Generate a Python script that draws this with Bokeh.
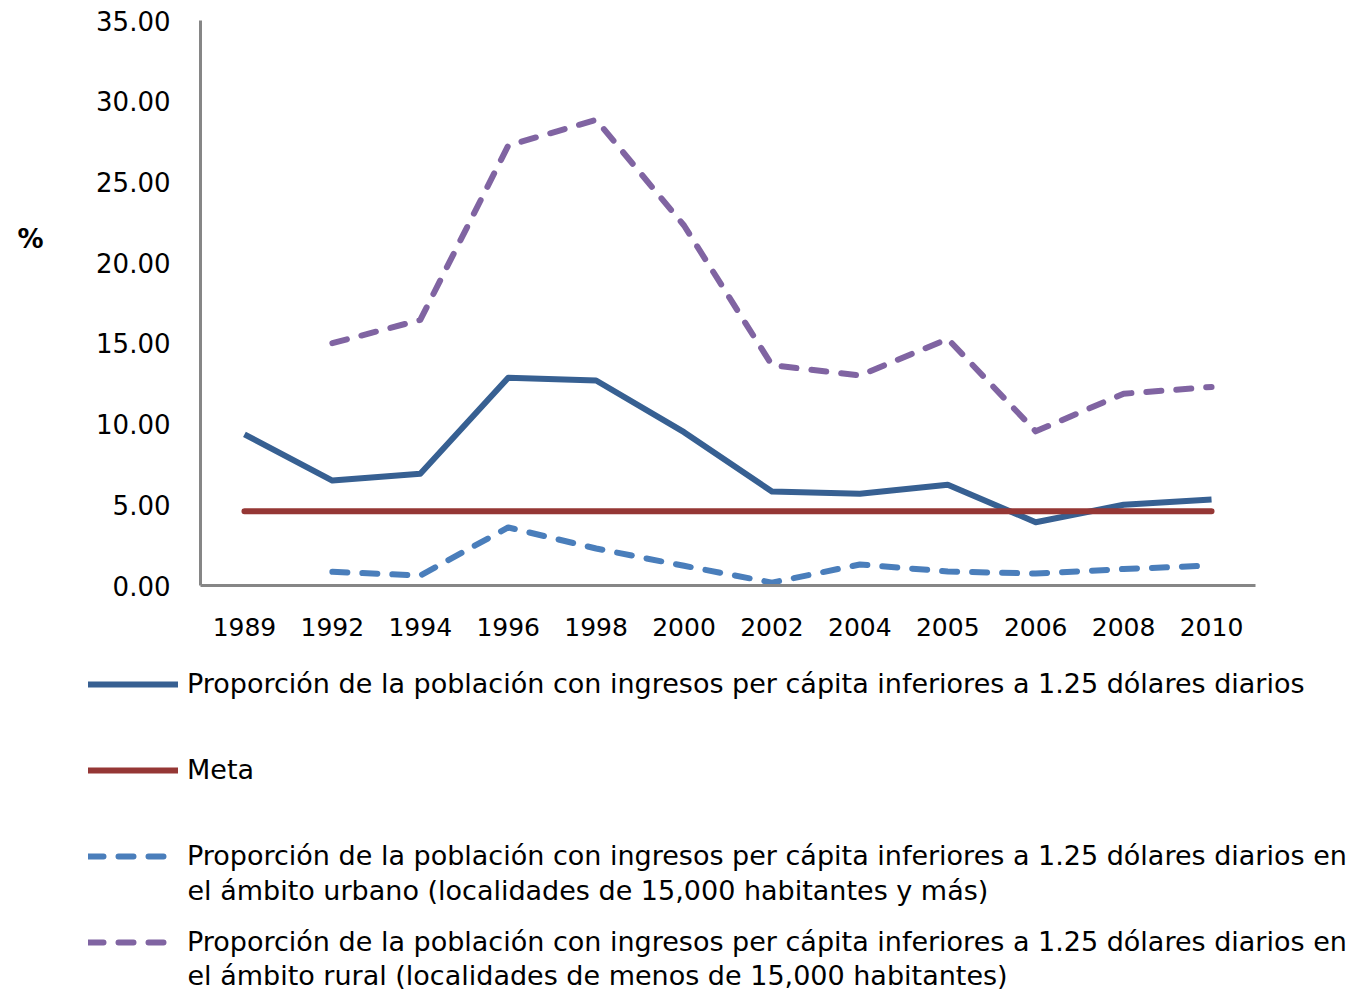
from bokeh.plotting import figure
from bokeh.layouts import column, row
from bokeh.models import (FixedTicker, NumeralTickFormatter, Legend, LegendItem,
                          Label, ColumnDataSource)
from bokeh.embed import file_html
from bokeh.resources import INLINE

# ---------------- data ----------------
years = ["1989", "1992", "1994", "1996", "1998", "2000", "2002", "2004",
         "2005", "2006", "2008", "2010"]
total = [9.36, 6.50, 6.92, 12.87, 12.70, 9.50, 5.82, 5.68, 6.24, 3.92, 5.00, 5.33]
meta = [4.60, 4.60, 4.60, 4.60, 4.60, 4.60, 4.60, 4.60, 4.60, 4.60, 4.60, 4.60]
sub_years = ["1992", "1994", "1996", "1998", "2000", "2002", "2004",
             "2005", "2006", "2008", "2010"]
urban = [0.85, 0.62, 3.60, 2.29, 1.22, 0.18, 1.30, 0.87, 0.74, 1.02, 1.24]
rural = [15.01, 16.45, 27.25, 28.85, 22.30, 13.65, 13.01, 15.27, 9.55, 11.88, 12.30]
y_ticks = [0, 5, 10, 15, 20, 25, 30, 35]

label_total = "Proporción de la población con ingresos per cápita inferiores a 1.25 dólares diarios"
label_meta = "Meta"
label_urban = ["Proporción de la población con ingresos per cápita inferiores a 1.25 dólares diarios en",
               "el ámbito urbano (localidades de 15,000 habitantes y más)"]
label_rural = ["Proporción de la población con ingresos per cápita inferiores a 1.25 dólares diarios en",
               "el ámbito rural (localidades de menos de 15,000 habitantes)"]
y_label = "%"

FONT = "DejaVu Sans"
C_TOTAL = "#376092"
C_META = "#953735"
C_URBAN = "#4A7EBB"
C_RURAL = "#8064A2"
LW = 6
DASH = "15 15"

CH = 644   # chart row height
LH = 348   # legend panel height

# ---------------- "%" column ----------------
pct = figure(width=60, height=CH, x_range=(0, 1), y_range=(0, 1), title=None,
             output_backend="svg", toolbar_location=None,
             min_border=0, outline_line_color=None)
pct.axis.visible = False
pct.grid.visible = False
pct.frame_width = 60
pct.frame_height = CH
pct.add_layout(Label(x=30, y=CH - 218, x_units="screen", y_units="screen", text=y_label,
                     text_font=FONT, text_font_size="26px", text_font_style="bold",
                     text_color="#000000", text_align="center", text_baseline="middle"))

# ---------------- chart ----------------
src_main = ColumnDataSource(dict(x=years, total=total, meta=meta))
src_sub = ColumnDataSource(dict(x=sub_years, urban=urban, rural=rural))

p = figure(width=1291, height=CH, x_range=years, y_range=(0, 35), title=None,
           output_backend="svg", toolbar_location=None,
           min_border_left=140, min_border_top=20, min_border_right=96,
           min_border_bottom=CH - 585)
p.frame_width = 1055
p.frame_height = 565

p.line("x", "total", source=src_main, line_color=C_TOTAL, line_width=LW,
       line_join="round")
p.line("x", "meta", source=src_main, line_color=C_META, line_width=LW,
       line_cap="round")
p.line("x", "urban", source=src_sub, line_color=C_URBAN, line_width=LW,
       line_dash=DASH, line_cap="round", line_join="round")
p.line("x", "rural", source=src_sub, line_color=C_RURAL, line_width=LW,
       line_dash=DASH, line_cap="round", line_join="round")

p.xgrid.visible = False
p.ygrid.visible = False
p.outline_line_color = None

for ax in (p.xaxis[0], p.yaxis[0]):
    ax.axis_line_color = "#868686"
    ax.axis_line_width = 3
    ax.major_tick_line_color = None
    ax.minor_tick_line_color = None
    ax.major_label_text_font = FONT
    ax.major_label_text_color = "#000000"

p.xaxis.major_label_text_font_size = "25px"
p.yaxis.major_label_text_font_size = "26px"
p.yaxis.ticker = FixedTicker(ticks=y_ticks)
p.yaxis.formatter = NumeralTickFormatter(format="0.00")
p.yaxis.major_label_standoff = 24
p.xaxis.major_label_standoff = 26

# ---------------- legend panel ----------------
lg = figure(width=1351, height=LH, x_range=(0, 1), y_range=(0, 1), title=None,
            output_backend="svg", toolbar_location=None,
            min_border=0, outline_line_color=None)
lg.axis.visible = False
lg.grid.visible = False
lg.frame_width = 1351
lg.frame_height = LH

nan = float("nan")
empty = ColumnDataSource(dict(x=[nan], y=[nan]))
g_total = lg.line("x", "y", source=empty, line_color=C_TOTAL, line_width=LW,
                  line_cap="round")
g_meta = lg.line("x", "y", source=empty, line_color=C_META, line_width=LW,
                 line_cap="round")
g_urban = lg.line("x", "y", source=empty, line_color=C_URBAN, line_width=LW,
                  line_dash=DASH, line_cap="round")
g_rural = lg.line("x", "y", source=empty, line_color=C_RURAL, line_width=LW,
                  line_dash=DASH, line_cap="round")

legend = Legend(items=[
    LegendItem(label=label_total, renderers=[g_total]),
    LegendItem(label=label_meta, renderers=[g_meta]),
    LegendItem(label=label_urban[0], renderers=[g_urban]),
    LegendItem(label=label_rural[0], renderers=[g_rural]),
], location=(88, LH - 313), orientation="vertical",
    glyph_width=90, glyph_height=30, label_height=30, label_standoff=9,
    spacing=55, padding=0, margin=0, border_line_color=None,
    background_fill_alpha=0, label_text_font=FONT, label_text_font_size="27px",
    label_text_color="#000000", label_text_baseline="middle")
lg.add_layout(legend, "center")

for txt, yy in ((label_urban[1], LH - 246), (label_rural[1], LH - 331)):
    lg.add_layout(Label(x=187, y=yy, x_units="screen", y_units="screen", text=txt,
                        text_font=FONT, text_font_size="27px", text_color="#000000",
                        text_align="left", text_baseline="middle"))

layout = column(row(pct, p), lg)
open("out.html", "w").write(file_html(layout, INLINE))
